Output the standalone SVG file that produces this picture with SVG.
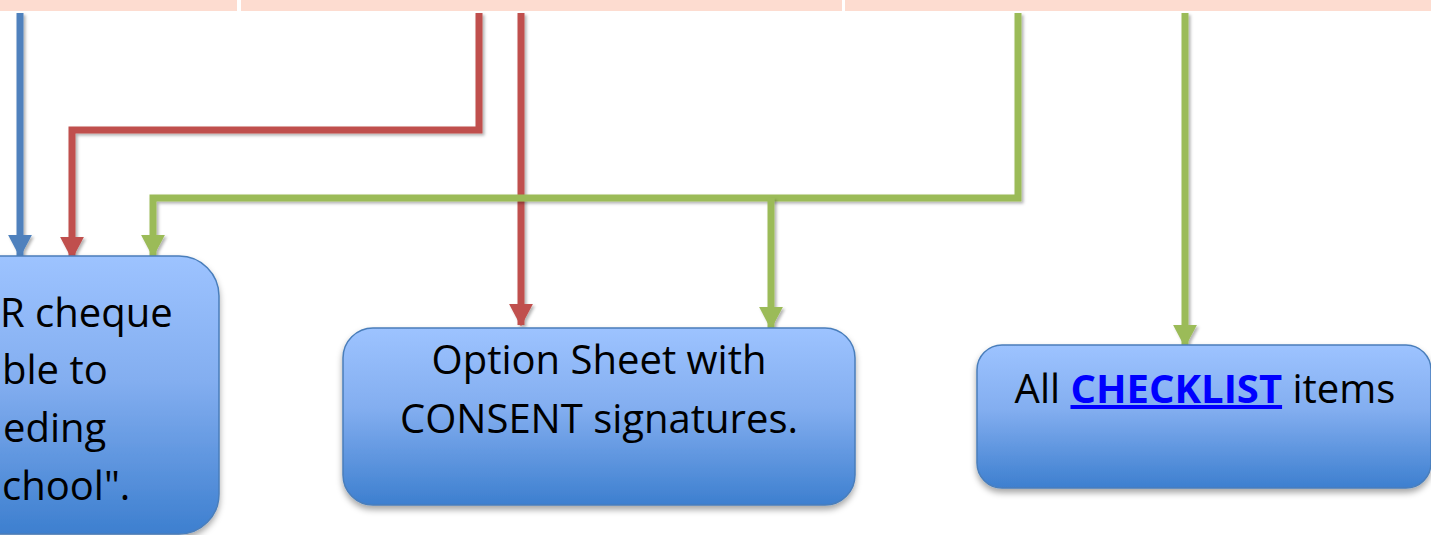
<svg xmlns="http://www.w3.org/2000/svg" width="1431" height="535" viewBox="0 0 1431 535">
<defs>
<linearGradient id="g" x1="0" y1="0" x2="0" y2="1">
<stop offset="0" stop-color="#9DC3FF"/>
<stop offset="0.45" stop-color="#83AEF0"/>
<stop offset="1" stop-color="#3D7FCF"/>
</linearGradient>
<filter id="sh" x="-10%" y="-10%" width="120%" height="130%">
<feDropShadow dx="0" dy="4" stdDeviation="3" flood-color="#000" flood-opacity="0.35"/>
</filter>
<filter id="lsh" filterUnits="userSpaceOnUse" x="0" y="0" width="1431" height="535">
<feDropShadow dx="2" dy="2" stdDeviation="1.5" flood-color="#000" flood-opacity="0.3"/>
</filter>
<marker id="ab" markerWidth="3.4" markerHeight="3.4" refX="3" refY="1.7" orient="auto" markerUnits="strokeWidth"><path d="M0,0 L3.2,1.7 L0,3.4 Z" fill="#4F81BD"/></marker>
<marker id="ar" markerWidth="3.4" markerHeight="3.4" refX="3" refY="1.7" orient="auto" markerUnits="strokeWidth"><path d="M0,0 L3.2,1.7 L0,3.4 Z" fill="#C0504D"/></marker>
<marker id="ag" markerWidth="3.4" markerHeight="3.4" refX="3" refY="1.7" orient="auto" markerUnits="strokeWidth"><path d="M0,0 L3.2,1.7 L0,3.4 Z" fill="#9BBB59"/></marker>
</defs>
<style>
.hdr{fill:#FDDCD0}
.box{fill:url(#g);stroke:#4A7EBB;stroke-width:1.5;filter:url(#sh)}
.t{font-family:"Open Sans","Liberation Sans",sans-serif;font-size:40px;fill:#000}
.c{text-anchor:middle}
.ln{fill:none;stroke-width:7;stroke-linejoin:miter;filter:url(#lsh)}
.b{stroke:#4F81BD}
.r{stroke:#C0504D}
.gr{stroke:#9BBB59}
.lk{fill:#0000FF;font-weight:bold;text-decoration:underline}
</style>
<g id="headers">
<rect class="hdr" x="0" y="0" width="237" height="11"/>
<rect class="hdr" x="241" y="0" width="601" height="11"/>
<rect class="hdr" x="845" y="0" width="586" height="11"/>
</g>
<g id="connectors">
<path class="ln b" d="M20,13 V256" marker-end="url(#ab)"/>
<path class="ln r" d="M479,13 V130 H72 V258" marker-end="url(#ar)"/>
<path class="ln r" d="M521,13 V325" marker-end="url(#ar)"/>
<path class="ln gr" d="M1018,13 V198 H153 V256" marker-end="url(#ag)"/>
<path class="ln gr" d="M771,198 V328" marker-end="url(#ag)"/>
<path class="ln gr" d="M1185,13 V346" marker-end="url(#ag)"/>
</g>
<g id="node1">
<rect class="box" x="-60" y="256" width="279" height="278" rx="40"/>
<text class="t" x="0" y="327">R cheque</text>
<text class="t" x="2" y="384">ble to</text>
<text class="t" x="3" y="442">eding</text>
<text class="t" x="2" y="500">chool".</text>
</g>
<g id="node2">
<rect class="box" x="343" y="328" width="512" height="177" rx="30"/>
<text class="t c" x="599" y="374">Option Sheet with</text>
<text class="t c" x="599" y="433">CONSENT signatures.</text>
</g>
<g id="node3">
<rect class="box" x="977" y="345" width="454" height="143" rx="25"/>
<text class="t c" x="1205" y="403">All <tspan class="lk">CHECKLIST</tspan> items</text>
</g>
</svg>
